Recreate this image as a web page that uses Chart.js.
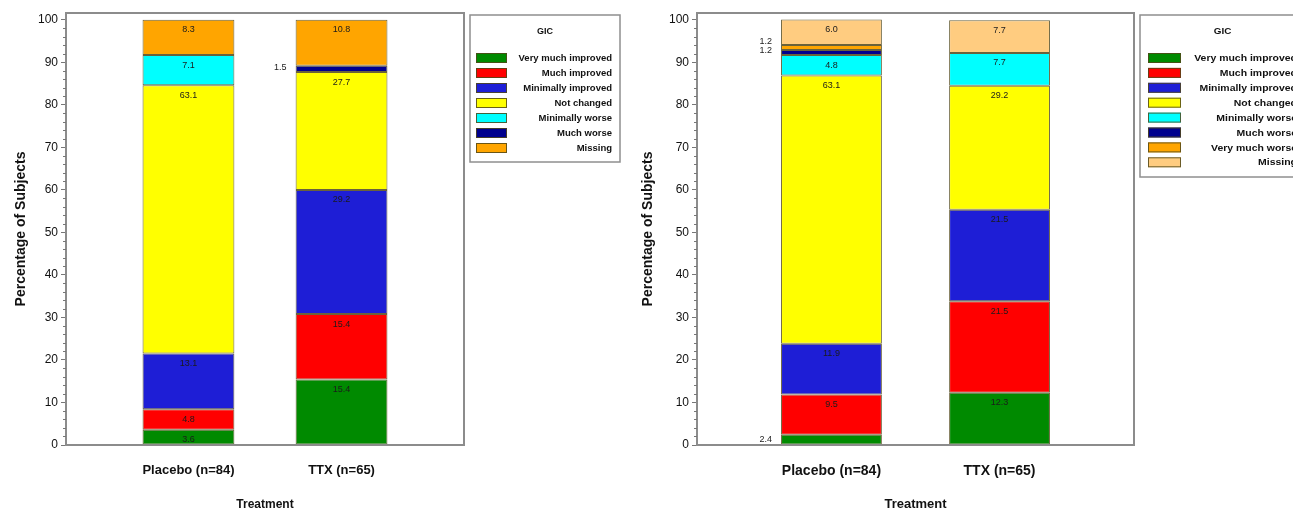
<!DOCTYPE html>
<html>
<head>
<meta charset="utf-8">
<script src="https://cdn.jsdelivr.net/npm/chart.js@4/dist/chart.umd.min.js"></script>
<style>
  html, body { margin: 0; padding: 0; background: #fff; }
  body { width: 1293px; height: 512px; position: relative; overflow: hidden; }
  .panel { position: absolute; top: 0; height: 512px; }
  #gicLeft { left: 0; width: 627px; }
  #gicRight { left: 627px; width: 666px; }
</style>
</head>
<body>
<div class="panel" id="gicLeft"><canvas id="leftCanvas"></canvas></div>
<div class="panel" id="gicRight"><canvas id="rightCanvas"></canvas></div>
<script>
// Treatment groups on the x axis
const treatments = ['Placebo (n=84)', 'TTX (n=65)'];

// GIC response categories, bottom of the stack first
const leftLevels = ['Very much improved', 'Much improved', 'Minimally improved', 'Not changed',
                    'Minimally worse', 'Much worse', 'Missing'];
const rightLevels = ['Very much improved', 'Much improved', 'Minimally improved', 'Not changed',
                     'Minimally worse', 'Much worse', 'Very much worse', 'Missing'];

// Percentage of subjects in each category (same order as the level lists)
const leftPlacebo  = [3.6, 4.8, 13.1, 63.1, 7.1, 0, 8.3];
const leftTTX      = [15.4, 15.4, 29.2, 27.7, 0, 1.5, 10.8];
const rightPlacebo = [2.4, 9.5, 11.9, 63.1, 4.8, 1.2, 1.2, 6.0];
const rightTTX     = [12.3, 21.5, 21.5, 29.2, 7.7, 0, 0, 7.7];

// y axis ticks: labelled every 10, minor marks every 2
const yMajorTicks = [0, 10, 20, 30, 40, 50, 60, 70, 80, 90, 100];
const yMinorStep = 2;

const gicColors = {
  'Very much improved': '#008a00',
  'Much improved': '#ff0000',
  'Minimally improved': '#1e1ed6',
  'Not changed': '#ffff00',
  'Minimally worse': '#00ffff',
  'Much worse': '#00008e',
  'Very much worse': '#ffa500',
  'Missing': '#ffa500'
};
const FONT = '"Liberation Sans", Arial, sans-serif';
const SEG_BORDER = 'rgba(80,70,25,0.85)';

function drawScaledText(ctx, text, x, y, sx) {
  ctx.save();
  ctx.translate(x, y);
  ctx.scale(sx, 1);
  ctx.fillText(text, 0, 0);
  ctx.restore();
}

// Plot frame and minor tick marks on the y axis
const frameAndTicks = {
  id: 'frameAndTicks',
  afterDatasetsDraw(chart) {
    const {ctx, chartArea: a, scales: {y}} = chart;
    ctx.save();
    ctx.strokeStyle = '#8c8c8c';
    ctx.lineWidth = 2;
    ctx.strokeRect(a.left, a.top, a.right - a.left, a.bottom - a.top);
    ctx.strokeStyle = '#777';
    ctx.lineWidth = 1;
    for (let v = 0; v <= 100; v += yMinorStep) {
      if (yMajorTicks.includes(v)) continue;
      const py = Math.round(y.getPixelForValue(v)) + 0.5;
      ctx.beginPath();
      ctx.moveTo(a.left - 3, py);
      ctx.lineTo(a.left, py);
      ctx.stroke();
    }
    ctx.restore();
  }
};

// Percentage written on each segment; thin segments get their value to the left of the bar
const segmentValues = {
  id: 'segmentValues',
  afterDatasetsDraw(chart) {
    const ctx = chart.ctx;
    ctx.save();
    ctx.font = '9px ' + FONT;
    ctx.fillStyle = '#1b1b1b';
    ctx.textBaseline = 'middle';
    const lastSmallY = {};
    chart.data.datasets.forEach((ds, di) => {
      const meta = chart.getDatasetMeta(di);
      meta.data.forEach((el, i) => {
        const v = ds.data[i].y;
        const {x, y, base, width} = el.getProps(['x', 'y', 'base', 'width'], true);
        const txt = v.toFixed(1);
        if (v >= 3) {
          ctx.textAlign = 'center';
          ctx.fillText(txt, x, y + 10);
        } else {
          const key = ds.data[i].x;
          let ty = base - 5;
          if (lastSmallY[key] !== undefined && ty > lastSmallY[key] - 9) ty = lastSmallY[key] - 9;
          lastSmallY[key] = ty;
          ctx.textAlign = 'right';
          ctx.fillText(txt, x - width / 2 - 9, ty);
        }
      });
    });
    ctx.restore();
  }
};

// Boxed legend to the right of the plot
const gicLegend = {
  id: 'gicLegend',
  afterDraw(chart, args, o) {
    const ctx = chart.ctx;
    const x0 = chart.chartArea.right + o.gap;
    const y0 = o.top;
    ctx.save();
    ctx.strokeStyle = '#8f8f8f';
    ctx.lineWidth = 1.5;
    ctx.strokeRect(x0, y0, o.width, o.height);
    ctx.fillStyle = '#111';
    ctx.font = 'bold 9px ' + FONT;
    ctx.textAlign = 'center';
    ctx.textBaseline = 'middle';
    drawScaledText(ctx, o.title, x0 + o.width / 2, y0 + 17, o.sx);
    chart.data.datasets.forEach((ds, i) => {
      const cy = y0 + o.firstRow + i * o.rowGap;
      ctx.fillStyle = ds.backgroundColor;
      ctx.fillRect(x0 + o.swatchX, cy - 5, o.swatchW, 10);
      ctx.strokeStyle = SEG_BORDER;
      ctx.lineWidth = 1;
      ctx.strokeRect(x0 + o.swatchX + 0.5, cy - 4.5, o.swatchW - 1, 9);
      ctx.fillStyle = '#111';
      ctx.font = 'bold 9.5px ' + FONT;
      ctx.textAlign = 'right';
      drawScaledText(ctx, ds.label, x0 + o.width - 8, cy + 0.5, o.sx);
    });
    ctx.restore();
  }
};

function buildDatasets(levels, placebo, ttx, missingColor) {
  return levels.map((lvl, i) => {
    const pts = [];
    if (placebo[i] > 0) pts.push({x: 1, y: placebo[i]});
    if (ttx[i] > 0) pts.push({x: 2, y: ttx[i]});
    const color = lvl === 'Missing' ? missingColor : gicColors[lvl];
    return {
      label: lvl,
      data: pts,
      backgroundColor: color,
      borderColor: SEG_BORDER,
      borderWidth: 1,
      borderSkipped: false,
      barPercentage: 0.6,
      categoryPercentage: 1.0
    };
  });
}

function makeChart(canvasId, levels, placebo, ttx, cfg) {
  return new Chart(document.getElementById(canvasId), {
    type: 'bar',
    data: { datasets: buildDatasets(levels, placebo, ttx, cfg.missingColor) },
    options: {
      responsive: true,
      maintainAspectRatio: false,
      animation: false,
      events: [],
      layout: { padding: { left: 0, top: 13, right: cfg.padRight, bottom: 0 } },
      plugins: {
        legend: { display: false },
        tooltip: { enabled: false },
        gicLegend: cfg.legend
      },
      scales: {
        x: {
          type: 'linear',
          offset: false,
          stacked: true,
          min: 0.2,
          max: 2.8,
          afterBuildTicks: s => { s.ticks = treatments.map((t, i) => ({value: i + 1})); },
          afterFit: s => { s.height = 67; },
          grid: { display: false, drawTicks: false },
          border: { display: false },
          ticks: {
            autoSkip: false,
            maxRotation: 0,
            padding: 18,
            color: '#111',
            font: { family: FONT, size: cfg.xFont, weight: 'bold' },
            callback: v => treatments[v - 1] || ''
          },
          title: {
            display: true,
            text: 'Treatment',
            color: '#111',
            padding: { top: 0, bottom: 0 },
            font: { family: FONT, size: cfg.titleFont, weight: 'bold' }
          }
        },
        y: {
          stacked: true,
          min: 0,
          max: 101.6,
          afterBuildTicks: s => { s.ticks = yMajorTicks.map(v => ({value: v})); },
          afterFit: s => { s.width = cfg.yWidth; },
          grid: { drawOnChartArea: false, tickLength: 5, tickColor: '#777', tickWidth: 1 },
          border: { display: false },
          ticks: {
            autoSkip: false,
            padding: 3,
            color: '#111',
            font: { family: FONT, size: 12 }
          },
          title: {
            display: true,
            text: 'Percentage of Subjects',
            color: '#111',
            padding: { top: 13, bottom: 0 },
            font: { family: FONT, size: 14, weight: 'bold' }
          }
        }
      }
    },
    plugins: [frameAndTicks, segmentValues, gicLegend]
  });
}

makeChart('leftCanvas', leftLevels, leftPlacebo, leftTTX, {
  missingColor: '#ffa500',
  padRight: 163,
  yWidth: 66,
  xFont: 13,
  titleFont: 12,
  legend: { title: 'GIC', gap: 6, top: 15, width: 150, height: 147,
            swatchX: 6, swatchW: 31, firstRow: 43, rowGap: 15, sx: 1.0 }
});

makeChart('rightCanvas', rightLevels, rightPlacebo, rightTTX, {
  missingColor: '#ffcc80',
  padRight: 159,
  yWidth: 70,
  xFont: 14,
  titleFont: 13,
  legend: { title: 'GIC', gap: 6, top: 15, width: 165, height: 162,
            swatchX: 8, swatchW: 33, firstRow: 43, rowGap: 14.9, sx: 1.1 }
});
</script>
</body>
</html>
